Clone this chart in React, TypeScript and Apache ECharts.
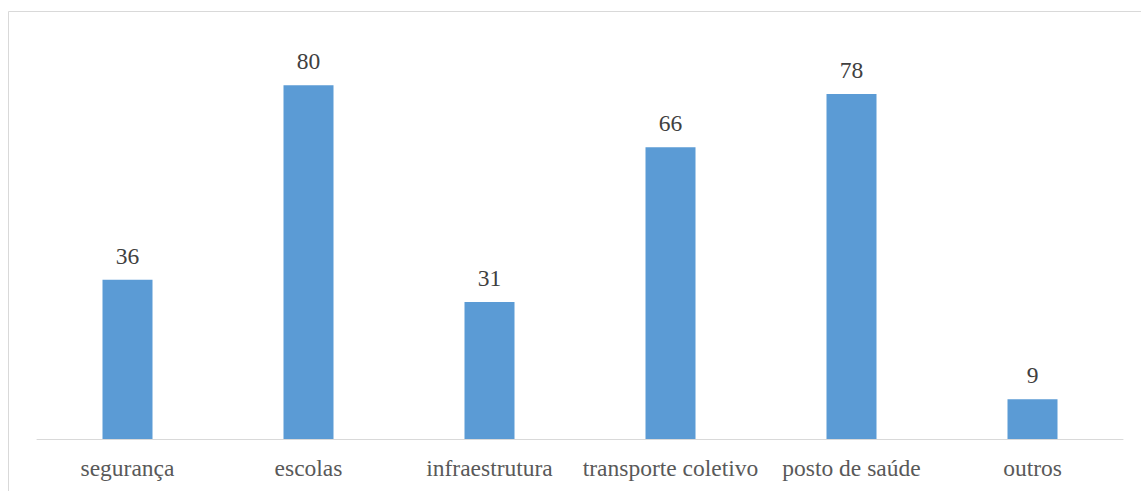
import React, { useEffect, useRef } from "react";
import * as echarts from "echarts";

const categories = ["segurança", "escolas", "infraestrutura", "transporte coletivo", "posto de saúde", "outros"];
const values = [36, 80, 31, 66, 78, 9];

const FONT = "Liberation Serif";

export default function App() {
  const ref = useRef<HTMLDivElement>(null);
  useEffect(() => {
    const chart = echarts.init(ref.current!, null, { renderer: "svg" });
    chart.setOption({
      animation: false,
      backgroundColor: "#ffffff",
      graphic: [
        {
          type: "rect",
          shape: { x: 8.5, y: 11.5, width: 1145, height: 500 },
          style: { fill: "none", stroke: "#d9d9d9", lineWidth: 1 },
          silent: true,
        },
      ],
      grid: { left: 37, top: 41, width: 1086, height: 398, containLabel: false },
      xAxis: {
        type: "category",
        data: categories,
        axisLine: { lineStyle: { color: "#d9d9d9", width: 1 } },
        axisTick: { show: false },
        axisLabel: {
          color: "#595959",
          fontFamily: FONT,
          fontSize: 23.5,
          margin: 17,
          interval: 0,
        },
      },
      yAxis: {
        type: "value",
        min: 0,
        max: 90,
        show: false,
        splitLine: { show: false },
      },
      series: [
        {
          type: "bar",
          data: values,
          barWidth: 50,
          itemStyle: { color: "#5b9bd5" },
          label: {
            show: true,
            position: "top",
            distance: 12,
            color: "#404040",
            fontFamily: FONT,
            fontSize: 23.5,
          },
        },
      ],
    });
    return () => chart.dispose();
  }, []);
  return (
    <div
      ref={ref}
      style={{ position: "absolute", left: 0, top: 0, width: 1141, height: 491 }}
    />
  );
}
